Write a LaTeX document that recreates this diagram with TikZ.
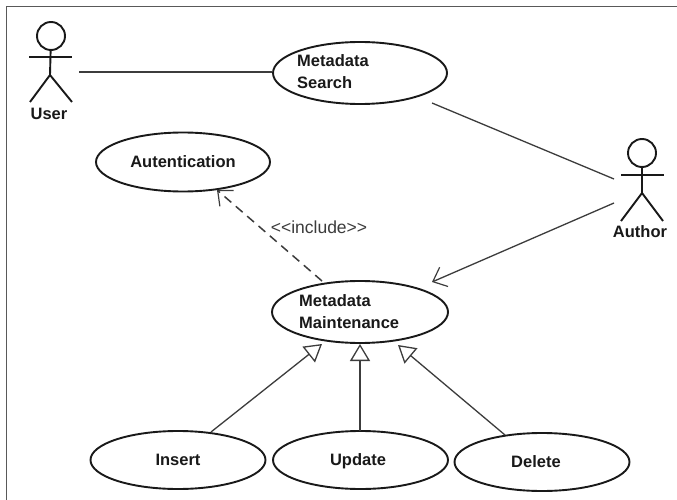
\documentclass[tikz,border=0pt]{standalone}
\usepackage{fontspec}
\setmainfont{Liberation Sans}
\usetikzlibrary{shapes.geometric,arrows.meta}
\definecolor{ink}{gray}{0.1}
\tikzset{
  usecase/.style={draw=ink,line width=1.9pt,ellipse,inner sep=0pt,font=\fontsize{16.5}{22}\selectfont\bfseries,text=ink},
  casetext/.style={inner sep=0pt,font=\fontsize{16.5}{22}\selectfont\bfseries,text=ink,align=left},
  actorhead/.style={draw=ink,line width=1.9pt,circle,inner sep=0pt,minimum size=28pt},
  actorline/.style={draw=ink,line width=1.9pt},
  actorname/.style={font=\fontsize{16.5}{19}\selectfont\bfseries,text=ink,inner sep=0pt},
  assoc/.style={draw=ink!85,line width=1.3pt},
  opentip/.style={-{Straight Barb[length=12pt,width=21pt,line width=1.2pt]}},
  gen/.style={draw=ink!85,line width=1.3pt,-{Triangle[open,length=17pt,width=20pt,line width=1.3pt,fill=white]}}
}
\begin{document}
\begin{tikzpicture}[x=1pt,y=-1pt]
\useasboundingbox (0,0) rectangle (677,500);
\fill[white] (0,0) rectangle (677,500);
\draw[draw=black!65,line width=1.5pt] (6.5,500) -- (6.5,6.5) -- (677,6.5);
% use cases
\node[usecase,minimum width=174pt,minimum height=62pt] (search) at (360,73) {};
\node[casetext,anchor=west] (searchtext) at (297,72) {Metadata\\Search};
\node[usecase,minimum width=174pt,minimum height=59pt] (auth) at (183,162) {Autentication};
\node[usecase,minimum width=176pt,minimum height=62pt] (maint) at (360,312) {};
\node[casetext,anchor=west] (mainttext) at (299,312) {Metadata\\Maintenance};
\node[usecase,minimum width=175pt,minimum height=58pt] (insert) at (178,460) {Insert};
\node[usecase,minimum width=175pt,minimum height=58pt] (update) at (360.5,460) {};
\node[casetext] (updatetext) at (358,461) {Update};
\node[usecase,minimum width=175pt,minimum height=58pt] (delete) at (542,462) {};
\node[casetext] (deletetext) at (536,462) {Delete};
% actor User
\node[actorhead] (uh) at (51,36) {};
\coordinate (ua1) at (29,57); \coordinate (ua2) at (72,57);
\coordinate (uc) at (50,75); \coordinate (ul1) at (30,102); \coordinate (ul2) at (72,102);
\draw[actorline] (ua1) -- (ua2);
\draw[actorline] (uh) -- (uc);
\draw[actorline] (ul1) -- (uc) -- (ul2);
\node[actorname] (uname) at (49,113.5) {User};
% actor Author
\node[actorhead] (ah) at (642,153) {};
\coordinate (aa1) at (621,175); \coordinate (aa2) at (664,175);
\coordinate (ac) at (642,193); \coordinate (al1) at (621,221); \coordinate (al2) at (663,221);
\draw[actorline] (aa1) -- (aa2);
\draw[actorline] (ah) -- (ac);
\draw[actorline] (al1) -- (ac) -- (al2);
\node[actorname] (aname) at (640,232) {Author};
% connector free ends
\coordinate (ue) at (79,72);
\coordinate (ae1) at (614,179);
\coordinate (ae2) at (614,203);
\coordinate (se) at (432,103);
\coordinate (mt) at (432,282);
\coordinate (d1) at (322,281);
\coordinate (d2) at (217,190);
\coordinate (g1a) at (211,432); \coordinate (g1b) at (322,344);
\coordinate (g2a) at (360,431); \coordinate (g2b) at (360,344);
\coordinate (g3a) at (505,435); \coordinate (g3b) at (398,345);
% connectors
\draw[assoc] (ue) -- (search.west |- ue);
\draw[assoc] (se) -- (ae1);
\draw[assoc,opentip] (ae2) -- (mt);
\draw[assoc,opentip,line width=1.5pt,dash pattern=on 9pt off 6pt] (d1) -- (d2);
\draw[gen] (g1a) -- (g1b);
\draw[gen] (g2a) -- (g2b);
\draw[gen] (g3a) -- (g3b);
\node[font=\fontsize{17.5}{18}\selectfont,text=ink!85,inner sep=0pt] (incl) at (319,227.5) {{<}{<}include{>}{>}};
\end{tikzpicture}
\end{document}
